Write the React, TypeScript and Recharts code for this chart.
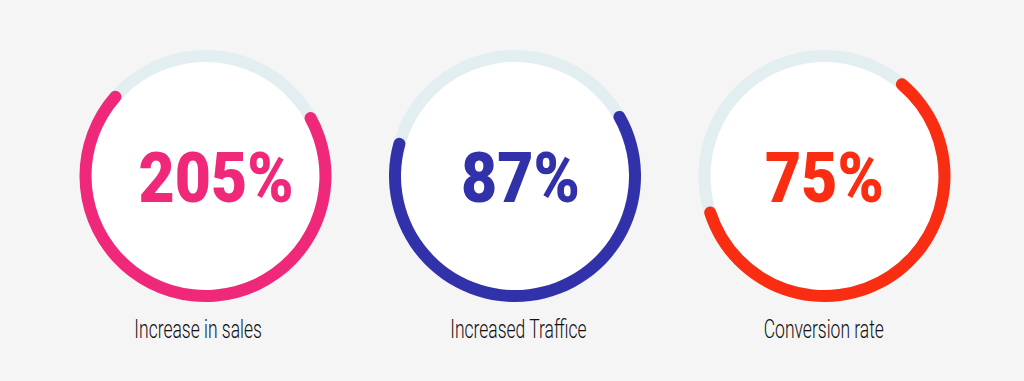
import { PieChart, Pie, Cell } from "recharts";

// ring captions, centre values and how much of each ring is coloured (percent of the full circle)
const categories = ["Increase in sales", "Increased Traffice", "Conversion rate"];
const valueLabels = ["205%", "87%", "75%"];
const arcShare = [71.1, 64.1, 60.5];
const colors = ["#ef2879", "#3131a9", "#f82d12"];

// where each coloured arc begins (degrees, counter-clockwise from 3 o'clock)
const arcStart = [135.8, 161.6, 194.9];
// small horizontal nudges of the texts, as in the original artwork
const valueShift = [11, 5.5, 0];
const captionShift = [-7, 3.5, -1];

const W = 1024;
const H = 381;
const CY = 176;
const INNER = 114;
const OUTER = 126;
const centerX = (i: number) => 205.5 + i * 309.5;

// no condensed face is installed, so Roboto is squeezed horizontally
const squeeze = (k: number) => ({
  display: "inline-block",
  transform: `scaleX(${k})`,
  transformOrigin: "50% 50%",
  whiteSpace: "nowrap" as const,
});

export default function App() {
  return (
    <div style={{ position: "absolute", left: 0, top: 0, width: W, height: H, background: "#f5f5f5" }}>
      <PieChart width={W} height={H} margin={{ top: 0, right: 0, bottom: 0, left: 0 }}>
        {categories.map((c, i) => (
          <Pie
            key={"disk" + c}
            data={[{ v: 1 }]}
            dataKey="v"
            cx={centerX(i)}
            cy={CY}
            innerRadius={0}
            outerRadius={INNER + 1}
            fill="#ffffff"
            stroke="none"
            isAnimationActive={false}
          />
        ))}
        {categories.map((c, i) => (
          <Pie
            key={"track" + c}
            data={[{ v: 1 }]}
            dataKey="v"
            cx={centerX(i)}
            cy={CY}
            innerRadius={INNER}
            outerRadius={OUTER}
            fill="#e3eef1"
            stroke="none"
            isAnimationActive={false}
          />
        ))}
        {categories.map((c, i) => (
          <Pie
            key={"arc" + c}
            data={[{ v: arcShare[i] }, { v: 100 - arcShare[i] }]}
            dataKey="v"
            cx={centerX(i)}
            cy={CY}
            innerRadius={INNER}
            outerRadius={OUTER}
            startAngle={arcStart[i]}
            endAngle={arcStart[i] + 360}
            cornerRadius={6}
            stroke="none"
            isAnimationActive={false}
          >
            <Cell fill={colors[i]} />
            <Cell fill="none" />
          </Pie>
        ))}
      </PieChart>
      {categories.map((c, i) => (
        <div key={"val" + c}>
          <div
            style={{
              position: "absolute",
              left: centerX(i) + valueShift[i] - 130,
              top: CY - 49,
              width: 260,
              height: 100,
              display: "flex",
              alignItems: "center",
              justifyContent: "center",
              fontFamily: "Roboto, sans-serif",
              fontWeight: 900,
              fontSize: 71,
              color: colors[i],
              lineHeight: 1,
            }}
          >
            <span style={squeeze(0.88)}>{valueLabels[i]}</span>
          </div>
          <div
            style={{
              position: "absolute",
              left: centerX(i) + captionShift[i] - 130,
              top: 315,
              width: 260,
              textAlign: "center",
              fontFamily: "Roboto, sans-serif",
              fontWeight: 300,
              fontSize: 25,
              color: "#111111",
              lineHeight: "30px",
            }}
          >
            <span style={squeeze(0.7)}>{c}</span>
          </div>
        </div>
      ))}
    </div>
  );
}
